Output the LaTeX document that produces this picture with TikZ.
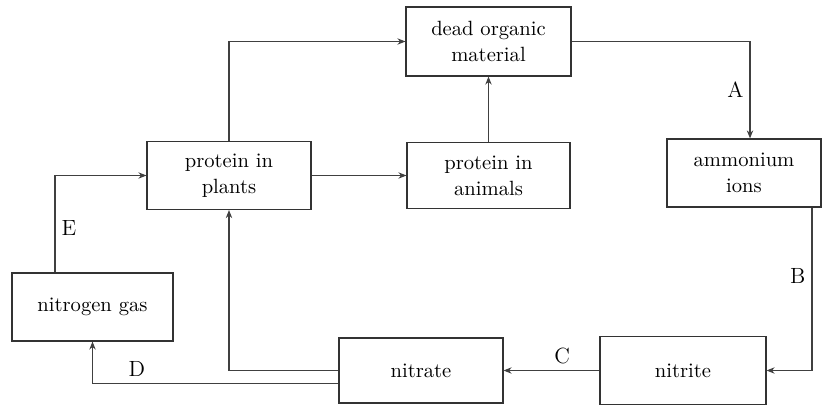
\documentclass[tikz,border=0pt]{standalone}
\usetikzlibrary{arrows.meta}

\begin{document}
\begin{tikzpicture}[x=0.5pt,y=-0.5pt,
  box/.style={draw=black!80,line width=0.6pt,minimum width=82pt,minimum height=34pt,inner sep=0pt,align=center,font=\fontsize{10.3}{13}\selectfont},
  arr/.style={draw=black!75,line width=0.55pt,-{Stealth[length=4pt,width=3.2pt]}},
  lab/.style={inner sep=3pt,font=\fontsize{11}{13}\selectfont}]
\useasboundingbox (0,0) rectangle (822,405);
\node[box,minimum width=82.5pt,minimum height=34.5pt] (dead) at (488.5,41.5) {dead organic\\material};
\node[box] (plants) at (229,175.5) {protein in\\plants};
\node[box,minimum width=81.5pt,minimum height=33pt] (animals) at (488.5,175.5) {protein in\\animals};
\node[box,minimum width=77pt] (ammonium) at (744,173) {ammonium\\ions};
\node[box,minimum width=80.5pt] (nitrogen) at (92.5,307) {nitrogen gas};
\node[box,minimum height=32.5pt] (nitrate) at (421,370.5) {nitrate};
\node[box,minimum width=83pt] (nitrite) at (683,370.5) {nitrite};
\draw[arr] (plants.north) |- (dead.west);
\draw[arr] (dead.east) -| node[lab,pos=0.75,left] {A} ([xshift=3pt]ammonium.north);
\draw[arr] (plants.east) -- (animals.west);
\draw[arr] (animals.north) -- (dead.south);
\draw[arr] ([xshift=34pt]ammonium.south) |- node[lab,pos=0.21,left] {B} (nitrite.east);
\draw[arr] (nitrite.west) -- node[lab,pos=0.39,above] {C} (nitrate.east);
\draw[arr] (nitrate.west) -| (plants.south);
\draw[arr] ([yshift=-6.5pt]nitrate.west) -| node[lab,pos=0.41,above] {D} (nitrogen.south);
\draw[arr] ([xshift=-18.75pt]nitrogen.north) |- node[lab,pos=0.23,right] {E} (plants.west);
\end{tikzpicture}
\end{document}
